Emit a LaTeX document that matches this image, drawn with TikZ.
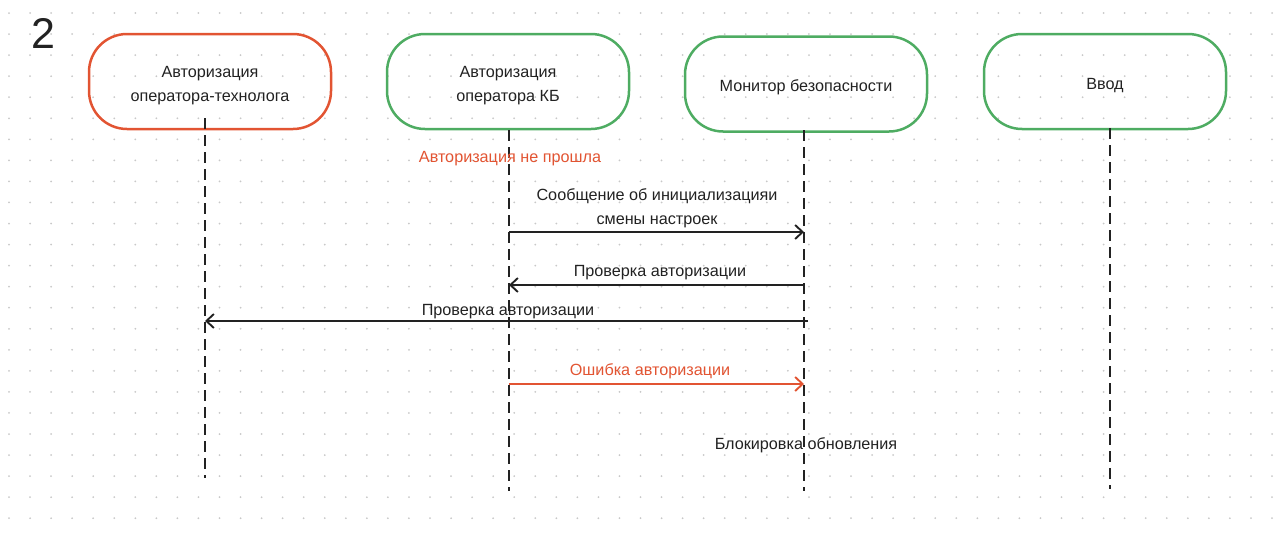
\documentclass[tikz,border=0pt]{standalone}
\usepackage{fontspec}
\setmainfont{Liberation Sans}
\usetikzlibrary{arrows.meta}
\definecolor{orangeC}{RGB}{226,84,50}
\definecolor{greenC}{RGB}{78,172,98}
\definecolor{lineC}{RGB}{34,34,34}
\definecolor{dotC}{RGB}{200,200,200}
\newcommand{\boxtxt}[1]{\raisebox{-3pt}[\height][\depth]{\begin{tabular}{@{}c@{}}#1\end{tabular}}}
\tikzset{
  actor/.style={draw, line width=2.5pt, rounded corners=38pt, minimum width=242pt, minimum height=95pt, align=center, font=\fontsize{16.2}{24.5}\selectfont, text=lineC},
  lifeline/.style={draw=lineC, line width=2pt, dash pattern=on 11pt off 6pt},
  msg/.style={draw=lineC, line width=1.8pt, -{Straight Barb[length=7.5pt,width=14pt,line width=1.9pt]}},
  lbl/.style={font=\fontsize{16.2}{24}\selectfont, text=lineC, align=center},
}
\begin{document}
\begin{tikzpicture}[x=1pt,y=-1pt]
\useasboundingbox (0,0) rectangle (1284,538);
\foreach \i in {0,...,60} \foreach \j in {0,...,24}
  \fill[dotC] (9+21.05*\i, 13+21.05*\j) circle (1pt);
\node[font=\fontsize{43}{43}\selectfont, text=lineC] (num) at (43,33) {2};
\node[actor, draw=orangeC] (b1) at (210,81.5) {\boxtxt{Авторизация\\оператора-технолога}};
\node[actor, draw=greenC] (b2) at (508,81.5) {\boxtxt{Авторизация\\оператора КБ}};
\node[actor, draw=greenC] (b3) at (806,84) {\boxtxt{Монитор безопасности}};
\node[actor, draw=greenC] (b4) at (1105,81.5) {\boxtxt{Ввод}};
% lifelines
\coordinate (l1t) at (205,118); \coordinate (l1b) at (205,478);
\coordinate (l2t) at (509,130); \coordinate (l2b) at (509,491);
\coordinate (l3t) at (804,130); \coordinate (l3b) at (804,491);
\coordinate (l4t) at (1110,128); \coordinate (l4b) at (1110,489);
\draw[lifeline] (l1t) -- (l1b);
\draw[lifeline] (l2t) -- (l2b);
\draw[lifeline] (l3t) -- (l3b);
\draw[lifeline] (l4t) -- (l4b);
% message points
\coordinate (m1a) at (509,232); \coordinate (m1b) at (804,232);
\coordinate (m2a) at (804,285); \coordinate (m2b) at (509,285);
\coordinate (m3a) at (808,321); \coordinate (m3b) at (205,321);
\coordinate (m4a) at (509,384); \coordinate (m4b) at (804,384);
\draw[msg] (m1a) -- (m1b);
\draw[msg] (m2a) -- (m2b);
\draw[msg] (m3a) -- (m3b);
\draw[msg, draw=orangeC, -{Straight Barb[length=7.5pt,width=14pt,line width=1.9pt,color=orangeC]}] (m4a) -- (m4b);
% labels
\node[lbl, text=orangeC] (t0) at (510,159) {Авторизация не прошла};
\node[lbl] (t1) at (657,208) {Сообщение об инициализацияи\\смены настроек};
\node[lbl] (t2) at (660,273) {Проверка авторизации};
\node[lbl] (t3) at (508,312) {Проверка авторизации};
\node[lbl, text=orangeC] (t4) at (650,371) {Ошибка авторизации};
\node[lbl] (t5) at (806,445) {Блокировка обновления};
\end{tikzpicture}
\end{document}
